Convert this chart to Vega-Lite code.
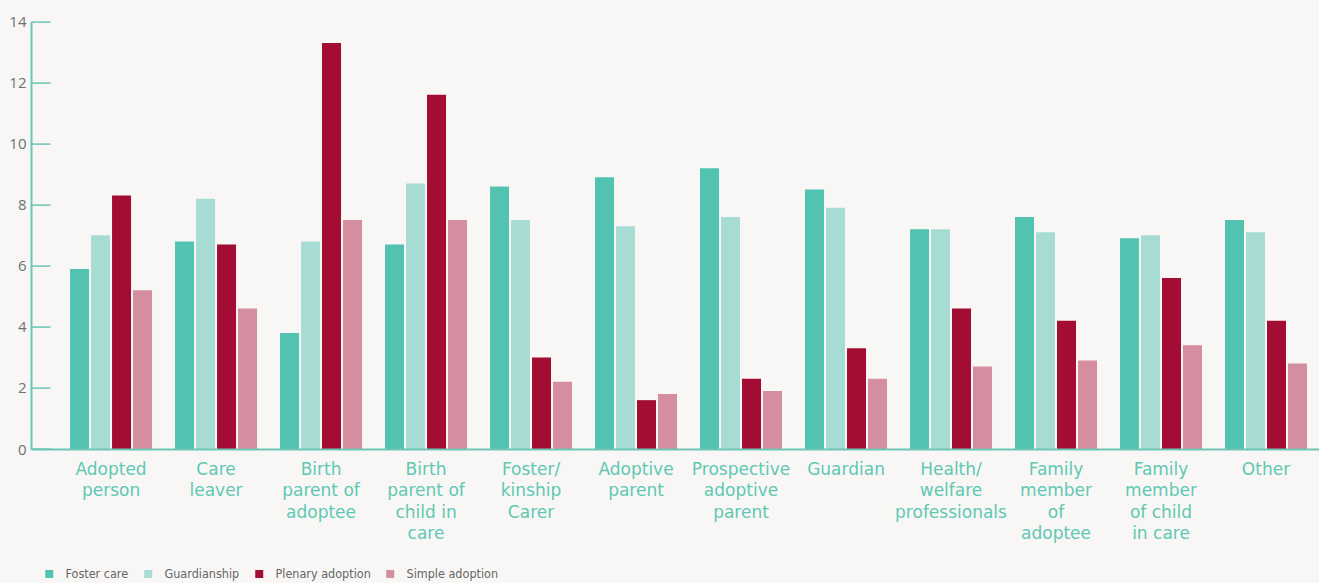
{
  "$schema": "https://vega.github.io/schema/vega-lite/v6.json",
  "width": 1288,
  "height": 427.4,
  "autosize": {"type": "none"},
  "padding": {"left": 31, "top": 21.6, "right": 0, "bottom": 134},
  "background": "#f8f7f5",
  "config": {
    "view": {"stroke": null},
    "font": "Open Sans"
  },
  "data": {
    "values": [
      {"cat": "Adopted\nperson", "series": "Foster care", "v": 5.9},
      {"cat": "Adopted\nperson", "series": "Guardianship", "v": 7.0},
      {"cat": "Adopted\nperson", "series": "Plenary adoption", "v": 8.3},
      {"cat": "Adopted\nperson", "series": "Simple adoption", "v": 5.2},
      {"cat": "Care\nleaver", "series": "Foster care", "v": 6.8},
      {"cat": "Care\nleaver", "series": "Guardianship", "v": 8.2},
      {"cat": "Care\nleaver", "series": "Plenary adoption", "v": 6.7},
      {"cat": "Care\nleaver", "series": "Simple adoption", "v": 4.6},
      {"cat": "Birth\nparent of\nadoptee", "series": "Foster care", "v": 3.8},
      {"cat": "Birth\nparent of\nadoptee", "series": "Guardianship", "v": 6.8},
      {"cat": "Birth\nparent of\nadoptee", "series": "Plenary adoption", "v": 13.3},
      {"cat": "Birth\nparent of\nadoptee", "series": "Simple adoption", "v": 7.5},
      {"cat": "Birth\nparent of\nchild in\ncare", "series": "Foster care", "v": 6.7},
      {"cat": "Birth\nparent of\nchild in\ncare", "series": "Guardianship", "v": 8.7},
      {"cat": "Birth\nparent of\nchild in\ncare", "series": "Plenary adoption", "v": 11.6},
      {"cat": "Birth\nparent of\nchild in\ncare", "series": "Simple adoption", "v": 7.5},
      {"cat": "Foster/\nkinship\nCarer", "series": "Foster care", "v": 8.6},
      {"cat": "Foster/\nkinship\nCarer", "series": "Guardianship", "v": 7.5},
      {"cat": "Foster/\nkinship\nCarer", "series": "Plenary adoption", "v": 3.0},
      {"cat": "Foster/\nkinship\nCarer", "series": "Simple adoption", "v": 2.2},
      {"cat": "Adoptive\nparent", "series": "Foster care", "v": 8.9},
      {"cat": "Adoptive\nparent", "series": "Guardianship", "v": 7.3},
      {"cat": "Adoptive\nparent", "series": "Plenary adoption", "v": 1.6},
      {"cat": "Adoptive\nparent", "series": "Simple adoption", "v": 1.8},
      {"cat": "Prospective\nadoptive\nparent", "series": "Foster care", "v": 9.2},
      {"cat": "Prospective\nadoptive\nparent", "series": "Guardianship", "v": 7.6},
      {"cat": "Prospective\nadoptive\nparent", "series": "Plenary adoption", "v": 2.3},
      {"cat": "Prospective\nadoptive\nparent", "series": "Simple adoption", "v": 1.9},
      {"cat": "Guardian", "series": "Foster care", "v": 8.5},
      {"cat": "Guardian", "series": "Guardianship", "v": 7.9},
      {"cat": "Guardian", "series": "Plenary adoption", "v": 3.3},
      {"cat": "Guardian", "series": "Simple adoption", "v": 2.3},
      {"cat": "Health/\nwelfare\nprofessionals", "series": "Foster care", "v": 7.2},
      {"cat": "Health/\nwelfare\nprofessionals", "series": "Guardianship", "v": 7.2},
      {"cat": "Health/\nwelfare\nprofessionals", "series": "Plenary adoption", "v": 4.6},
      {"cat": "Health/\nwelfare\nprofessionals", "series": "Simple adoption", "v": 2.7},
      {"cat": "Family\nmember\nof\nadoptee", "series": "Foster care", "v": 7.6},
      {"cat": "Family\nmember\nof\nadoptee", "series": "Guardianship", "v": 7.1},
      {"cat": "Family\nmember\nof\nadoptee", "series": "Plenary adoption", "v": 4.2},
      {"cat": "Family\nmember\nof\nadoptee", "series": "Simple adoption", "v": 2.9},
      {"cat": "Family\nmember\nof child\nin care", "series": "Foster care", "v": 6.9},
      {"cat": "Family\nmember\nof child\nin care", "series": "Guardianship", "v": 7.0},
      {"cat": "Family\nmember\nof child\nin care", "series": "Plenary adoption", "v": 5.6},
      {"cat": "Family\nmember\nof child\nin care", "series": "Simple adoption", "v": 3.4},
      {"cat": "Other", "series": "Foster care", "v": 7.5},
      {"cat": "Other", "series": "Guardianship", "v": 7.1},
      {"cat": "Other", "series": "Plenary adoption", "v": 4.2},
      {"cat": "Other", "series": "Simple adoption", "v": 2.8}
    ]
  },
  "mark": {"type": "bar"},
  "encoding": {
    "x": {
      "field": "cat",
      "type": "nominal",
      "sort": null,
      "scale": {"paddingInner": 0.219, "paddingOuter": 0.243, "align": 0.765},
      "axis": {
        "title": null,
        "labelAngle": 0,
        "labelExpr": "split(datum.value, '\\n')",
        "labelFont": "DejaVu Sans",
        "labelFontSize": 17,
        "labelLineHeight": 21.5,
        "labelColor": "#5fc8b3",
        "labelPadding": 12,
        "ticks": false,
        "domainColor": "#6cc5b5",
        "domainWidth": 2,
        "zindex": 1
      }
    },
    "xOffset": {
      "field": "series",
      "type": "nominal",
      "scale": {"paddingInner": 0.095, "paddingOuter": 0}
    },
    "y": {
      "field": "v",
      "type": "quantitative",
      "scale": {"domain": [0, 14], "nice": false},
      "axis": {
        "title": null,
        "values": [0, 2, 4, 6, 8, 10, 12, 14],
        "grid": false,
        "tickSize": -19,
        "tickWidth": 1.5,
        "tickColor": "#6cc5b5",
        "domainColor": "#6cc5b5",
        "domainWidth": 2,
        "labelPadding": 24,
        "labelFont": "Open Sans",
        "labelFontSize": 15,
        "labelColor": "#707070"
      }
    },
    "color": {
      "field": "series",
      "type": "nominal",
      "scale": {
        "domain": ["Foster care", "Guardianship", "Plenary adoption", "Simple adoption"],
        "range": ["#52c3b0", "#a7dcd4", "#a30d33", "#d48e9f"]
      },
      "legend": {
        "title": null,
        "orient": "none",
        "direction": "horizontal",
        "legendX": 12,
        "legendY": 546,
        "padding": 0,
        "symbolType": "square",
        "symbolSize": 64,
        "symbolStrokeWidth": 0,
        "symbolOpacity": 1,
        "labelOffset": 10,
        "columnPadding": 13,
        "labelFont": "DejaVu Sans Condensed, Roboto Condensed, Roboto",
        "labelFontSize": 12.5,
        "labelColor": "#666666"
      }
    }
  }
}
